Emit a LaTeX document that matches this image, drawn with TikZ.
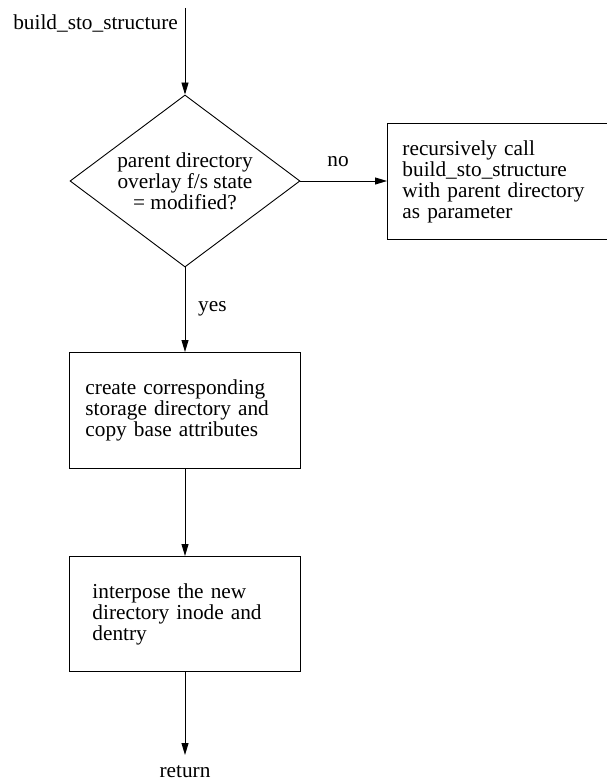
\documentclass[tikz,border=0pt]{standalone}
\usepackage{fontspec}
\setmainfont{Liberation Serif}
\usetikzlibrary{arrows.meta,shapes.geometric}
\begin{document}
\begin{tikzpicture}[x=1pt,y=-1pt,
  txt/.style={font=\fontsize{21.3}{21}\selectfont, inner sep=0pt},
  stepbox/.style={draw, line width=0.9pt, rectangle, align=left,
    font=\fontsize{21.3}{21}\selectfont, inner ysep=0pt, anchor=north west},
  decision/.style={draw, line width=0.9pt, diamond, inner sep=0pt},
  flow/.style={line width=0.9pt, -{Triangle[length=12pt,width=7pt]}}]
\useasboundingbox (0,0) rectangle (606,781);

% entry label and start of the flow
\node[txt, anchor=base east] (entry) at (178,30) {build\_sto\_structure};
\coordinate (start) at (185,8);

% decision on the parent directory state
\node[decision, minimum width=230, minimum height=172] (test) at (185,181) {};
\node[txt, align=center] (testtext) at (test.center)
  {parent directory\\overlay f/s state\\= modified?};

% recursive call for an unmodified parent
\node[stepbox, minimum height=116, inner xsep=15pt, text width=200pt] (recurse) at (387,123)
  {recursively call\\build\_sto\_structure\\with parent directory\\as parameter};

% creation of the storage directory
\node[stepbox, minimum height=116, inner xsep=16pt, text width=199pt] (create) at (69,352)
  {create corresponding\\storage directory and\\copy base attributes};

% interposing the new inode and dentry
\node[stepbox, minimum height=115, inner xsep=23pt, text width=185pt] (interpose) at (69,556)
  {interpose the new\\directory inode and\\dentry};

% exit
\coordinate (finish) at (185,755);
\node[txt, anchor=base] (ret) at (185,777) {return};

% connectors
\draw[flow] (start) -- (test.north);
\draw[flow] (test.east) -- (recurse.west |- test.east);
\node[txt, anchor=base] (no) at (338,166) {no};
\draw[flow] (test.south) -- (create.north -| test.south);
\node[txt, anchor=base west] (yes) at (198,311) {yes};
\draw[flow] (create.south -| test.south) -- (interpose.north -| test.south);
\draw[flow] (interpose.south -| test.south) -- (finish);
\end{tikzpicture}
\end{document}
